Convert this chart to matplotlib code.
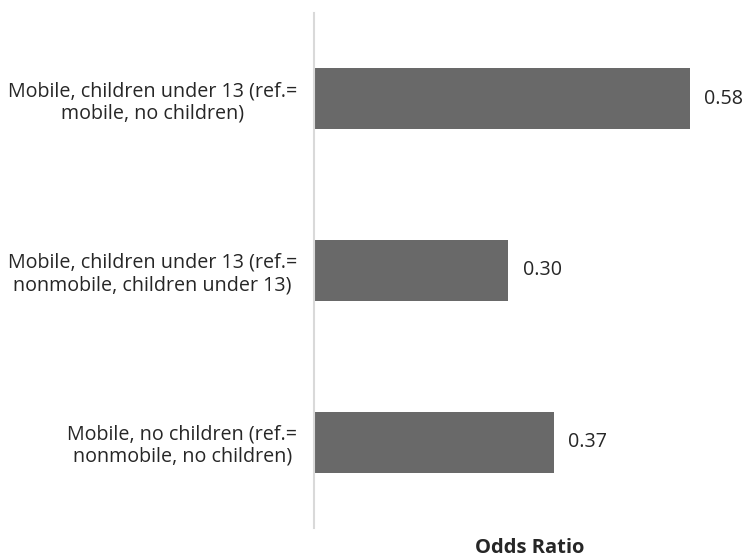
import matplotlib
matplotlib.use('Agg')
import matplotlib.pyplot as plt
import numpy as np

# categories bottom -> top
categories = ['Mobile, no children (ref.=\nnonmobile, no children)',
              'Mobile, children under 13 (ref.=\nnonmobile, children under 13)',
              'Mobile, children under 13 (ref.=\nmobile, no children)']
odds_ratio = [0.37, 0.30, 0.58]
value_labels = ['0.37', '0.30', '0.58']

plt.rcParams['font.family'] = ['Open Sans', 'DejaVu Sans']

fig = plt.figure(figsize=(7.44, 5.57), dpi=100)
ax = fig.add_axes([0.422, 0.052, 0.578, 0.925])

y = np.arange(len(categories))
ax.barh(y, odds_ratio, height=0.356, color='#696969')
for yi, v, lab in zip(y, odds_ratio, value_labels):
    ax.annotate(lab, (v, yi), xytext=(10.5, 0), textcoords='offset points',
                ha='left', va='center', fontsize=14.2, color='#262626')

ax.set_xlim(0, 0.664)
ax.set_ylim(-0.5, 2.5)
ax.set_yticks(y)
ax.set_yticklabels(categories, fontsize=14.2, color='#262626',
                   ha='right', multialignment='center', linespacing=1.15)
ax.tick_params(axis='y', length=0, pad=12)
ax.set_xticks([])
for s in ['top', 'right', 'bottom']:
    ax.spines[s].set_visible(False)
ax.spines['left'].set_color('#d9d9d9')
ax.spines['left'].set_linewidth(1.5)

fig.text(0.712, 0.016, 'Odds Ratio', ha='center', va='center',
         fontsize=14.5, fontweight='bold', color='#262626')

fig.savefig('out.png', dpi=100)
